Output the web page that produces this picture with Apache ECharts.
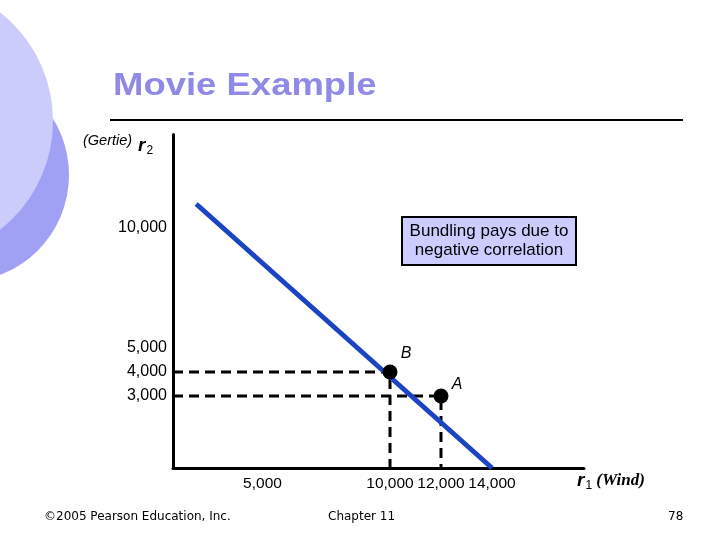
<!DOCTYPE html>
<html>
<head>
<meta charset="utf-8">
<script src="https://cdn.jsdelivr.net/npm/echarts@6/dist/echarts.min.js"></script>
<style>html,body{margin:0;padding:0;background:#fff;}#c{width:720px;height:540px;}</style>
</head>
<body>
<div id="c"></div>
<script>
// ---- data ----
const xTickValues = [5000, 10000, 12000, 14000];
const yTickValues = [10000, 5000, 4000, 3000];
const lineR1 = [2400, 14000];
const lineR2 = [11000, 0];
const pointNames = ['B', 'A'];
const pointR1 = [10000, 12000];
const pointR2 = [4000, 3000];

const X_MIN = 1490, X_MAX = 17608, Y_MIN = 0, Y_MAX = 13900;
const fmt = v => Number(v).toLocaleString('en-US');

const chart = echarts.init(document.getElementById('c'), null, {renderer: 'canvas'});

const guideSeries = pointNames.map((n, i) => ({
  type: 'line', name: 'guide ' + n, z: 2, silent: true,
  symbol: 'none',
  data: [[X_MIN, pointR2[i]], [pointR1[i], pointR2[i]], [pointR1[i], Y_MIN]],
  lineStyle: {color: '#000', width: 3, type: [10, 6]}
}));

const labelOffsets = {B: [16, -18], A: [16, -11]};

const option = {
  animation: false,
  backgroundColor: '#fff',
  grid: {left: 173, top: 134.4, width: 411, height: 333.6, containLabel: false},
  xAxis: {
    type: 'value', min: X_MIN, max: X_MAX,
    axisLine: {show: true, onZero: false, lineStyle: {color: '#000', width: 3}},
    axisTick: {show: false}, splitLine: {show: false},
    axisLabel: {customValues: xTickValues, formatter: fmt, color: '#000', fontSize: 15.5,
      fontFamily: 'Liberation Sans, Arial, sans-serif', margin: 8}
  },
  yAxis: {
    type: 'value', min: Y_MIN, max: Y_MAX,
    axisLine: {show: true, onZero: false, lineStyle: {color: '#000', width: 3}},
    axisTick: {show: false}, splitLine: {show: false},
    axisLabel: {customValues: yTickValues, formatter: fmt, color: '#000', fontSize: 16,
      fontFamily: 'Liberation Sans, Arial, sans-serif', margin: 6}
  },
  series: [
    ...guideSeries,
    {
      type: 'line', name: 'Bundling line', z: 3, symbol: 'none',
      data: lineR1.map((x, i) => [x, lineR2[i]]),
      lineStyle: {color: '#1b44c4', width: 5, cap: 'butt'}
    },
    {
      type: 'scatter', name: 'Consumers', z: 4,
      symbolSize: 15,
      itemStyle: {color: '#000', opacity: 1},
      data: pointNames.map((n, i) => ({
        value: [pointR1[i], pointR2[i]], name: n,
        label: {offset: labelOffsets[n]}
      })),
      label: {show: true, formatter: p => p.name, position: 'inside', color: '#000', opacity: 1,
        fontSize: 16, fontStyle: 'italic', fontFamily: 'Liberation Sans, Arial, sans-serif'}
    }
  ],
  graphic: [
    {type: 'circle', z: -10, shape: {cx: -38, cy: 175, r: 107}, style: {fill: '#a0a0f5'}},
    {type: 'circle', z: -9, shape: {cx: -85, cy: 121, r: 138}, style: {fill: '#ccccfc'}},
    {type: 'text', x: 113, y: 86, scaleX: 1.14, originX: 0, style: {text: 'Movie Example', fill: '#8f89e8',
      font: 'bold 32px "Liberation Sans", Arial, sans-serif', verticalAlign: 'middle'}},
    {type: 'line', shape: {x1: 110, y1: 120, x2: 683, y2: 120}, style: {stroke: '#000', lineWidth: 2}},
    {type: 'text', x: 83, y: 141, style: {text: '(Gertie)', fill: '#000', verticalAlign: 'middle',
      font: 'italic 14.5px "Liberation Sans", Arial, sans-serif'}},
    {type: 'text', left: 138, top: 136, style: {text: '{r|r}{s|2}', rich: {
      r: {fontSize: 19, fontWeight: 'bold', fontStyle: 'italic', fontFamily: 'Liberation Sans', fill: '#000'},
      s: {fontSize: 12, fontFamily: 'Liberation Sans', fill: '#000', padding: [10, 0, 0, 1]}
    }}},
    {type: 'text', left: 577, top: 471, style: {text: '{r|r}{s|1}{w| (Wind)}', rich: {
      r: {fontSize: 19, fontWeight: 'bold', fontStyle: 'italic', fontFamily: 'Liberation Sans', fill: '#000'},
      s: {fontSize: 12, fontFamily: 'Liberation Sans', fill: '#000', padding: [10, 0, 0, 1]},
      w: {fontSize: 17, fontWeight: 'bold', fontStyle: 'italic', fontFamily: 'Liberation Serif', fill: '#000'}
    }}},
    {type: 'rect', shape: {x: 402, y: 217, width: 174, height: 48}, style: {fill: '#ccccff', stroke: '#000', lineWidth: 2}},
    {type: 'text', x: 489, y: 241, style: {text: 'Bundling pays due to\nnegative correlation', fill: '#000',
      font: '17px "Liberation Sans", Arial, sans-serif', align: 'center', verticalAlign: 'middle', lineHeight: 19}},
    {type: 'text', x: 44, y: 517, style: {text: '©2005 Pearson Education, Inc.', fill: '#000', verticalAlign: 'middle',
      font: '12px "DejaVu Sans", sans-serif'}},
    {type: 'text', x: 328, y: 517, style: {text: 'Chapter 11', fill: '#000', verticalAlign: 'middle',
      font: '12px "DejaVu Sans", sans-serif'}},
    {type: 'text', x: 668, y: 517, style: {text: '78', fill: '#000', verticalAlign: 'middle',
      font: '12px "DejaVu Sans", sans-serif'}}
  ]
};
chart.setOption(option);
</script>
</body>
</html>
